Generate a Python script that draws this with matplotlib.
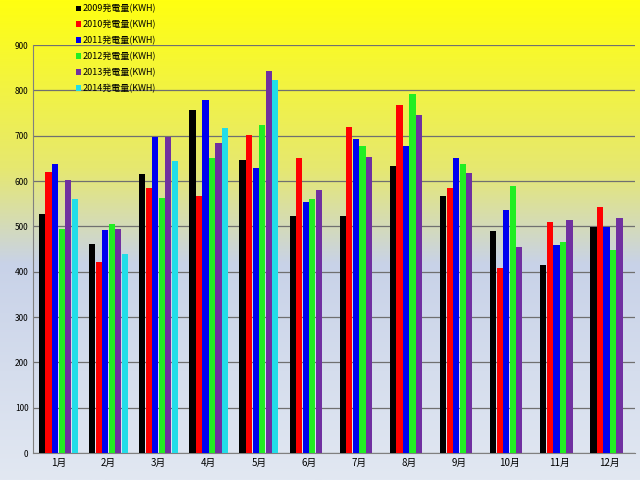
import numpy as np
import matplotlib
matplotlib.use("Agg")
import matplotlib.pyplot as plt
from matplotlib.colors import LinearSegmentedColormap

plt.rcParams['font.family'] = ['Noto Sans CJK JP', 'DejaVu Sans']

months = ['1月','2月','3月','4月','5月','6月','7月','8月','9月','10月','11月','12月']
s2009 = [528,462,616,757,647,524,522,633,567,491,414,499]
s2010 = [620,421,585,567,701,652,720,768,585,408,510,543]
s2011 = [638,492,697,779,628,555,694,678,652,536,458,499]
s2012 = [495,505,562,652,723,560,678,793,638,590,465,449]
s2013 = [603,495,698,684,842,580,653,745,618,455,515,519]
s2014 = [560,440,645,718,823,np.nan,np.nan,np.nan,np.nan,np.nan,np.nan,np.nan]
labels = ['2009発電量(KWH)','2010発電量(KWH)','2011発電量(KWH)','2012発電量(KWH)','2013発電量(KWH)','2014発電量(KWH)']
colors = ['#000000','#ff0000','#0000ee','#22ee22','#7030a0','#22dde8']
series = [s2009,s2010,s2011,s2012,s2013,s2014]

fig = plt.figure(figsize=(6.4,4.8), dpi=100)
bg = fig.add_axes([0,0,1,1], zorder=-10)
cmap = LinearSegmentedColormap.from_list('bg', [(0,'#ffff10'),(0.35,'#e6e870'),(0.55,'#c8d2e8'),(1,'#e2e8f2')])
bg.imshow(np.linspace(0,1,256).reshape(-1,1), aspect='auto', cmap=cmap, extent=[0,1,0,1])
bg.axis('off')

ax = fig.add_axes([0.052, 0.056, 0.94, 0.85])
ax.patch.set_alpha(0)
x = np.arange(len(months))
w = 0.13
for i,(s,c,l) in enumerate(zip(series,colors,labels)):
    ax.bar(x - 0.39 + w/2 + i*w, s, w*0.95, color=c, label=l, zorder=3)
ax.set_ylim(0,900)
ax.set_xlim(-0.5, 11.5)
ax.set_yticks(range(0,901,100))
ax.tick_params(axis='y', labelsize=6, length=0)
ax.tick_params(axis='x', labelsize=7, length=0)
ax.set_xticks(x)
ax.set_xticklabels(months)
ax.grid(axis='y', color='#707070', lw=0.9, zorder=0)
for sp in ['top','right']:
    ax.spines[sp].set_visible(False)
ax.spines['left'].set_color('#808080')
ax.spines['bottom'].set_color('#808080')
ax.legend(loc='upper left', bbox_to_anchor=(0.06, 1.115), frameon=False, fontsize=6.5,
          handlelength=0.6, handleheight=0.6, labelspacing=0.75, handletextpad=0.2,
          borderpad=0.2)
fig.savefig('out.png', dpi=100)
